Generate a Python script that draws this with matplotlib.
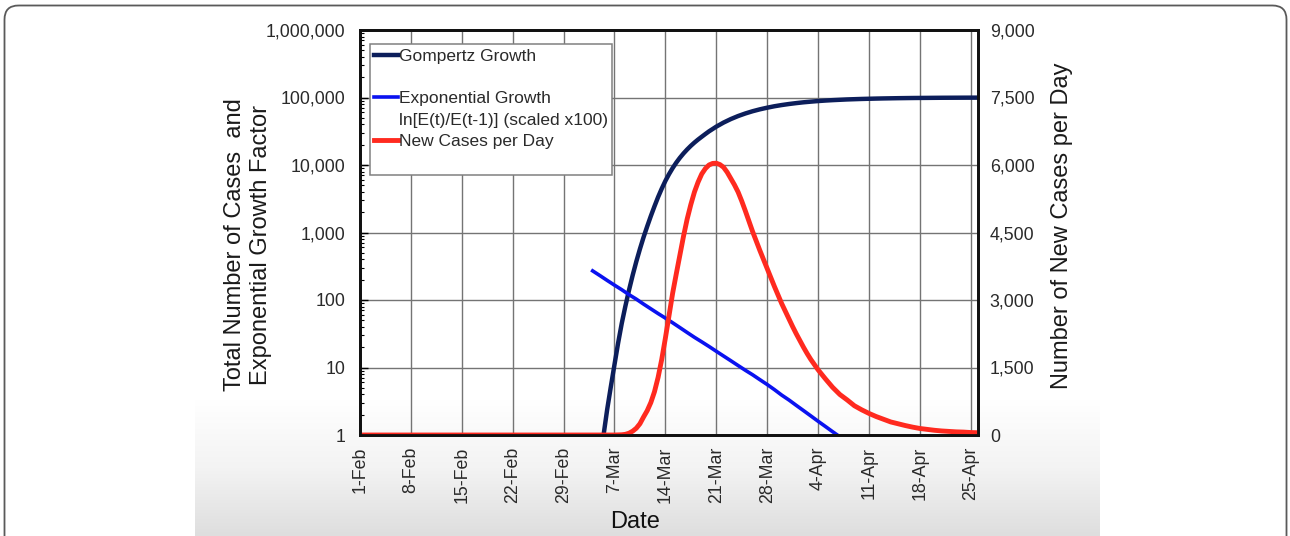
import numpy as np
import matplotlib
matplotlib.use('Agg')
import matplotlib.pyplot as plt
from matplotlib.lines import Line2D
from matplotlib.patches import FancyBboxPatch
from matplotlib.colors import LinearSegmentedColormap
import matplotlib.transforms as mtransforms

plt.rcParams['font.family'] = ['Liberation Sans', 'DejaVu Sans']

# day 0 = 1-Feb
week_ticks = [0, 7, 14, 21, 28, 35, 42, 49, 56, 63, 70, 77, 84]
week_labels = ['1-Feb', '8-Feb', '15-Feb', '22-Feb', '29-Feb', '7-Mar', '14-Mar',
               '21-Mar', '28-Mar', '4-Apr', '11-Apr', '18-Apr', '25-Apr']

# total cases, Gompertz fit: half-day steps to day 50, then daily to day 85
gomp_days = list(np.arange(33, 50, 0.5)) + list(range(50, 86))
gompertz = [0.38, 1.0, 2.4, 5.2, 11, 23, 45, 81, 140, 232,
            370, 569, 850, 1230, 1750, 2440, 3350, 4460, 5800, 7310,
            9000, 10840, 12800, 14860, 17000, 19230, 21500, 23830, 26200, 28770,
            31500, 34120, 37000, 39630,
            42500, 47900, 53100, 58000, 62600, 66800, 70600, 74200, 77300, 80100,
            82600, 84900, 86800, 88600, 90100, 91400, 92500, 93600, 94400, 95200,
            95800, 96400, 96900, 97300, 97700, 98000, 98300, 98500, 98700, 98900,
            99100, 99200, 99300, 99400, 99500, 99550]

# ln[E(t)/E(t-1)] x100 (days 32..66)
exp_days = list(range(32, 67))
exp_factor = [270, 230, 195, 166, 142, 120, 103, 87, 74, 63,
              54, 46, 39, 33, 28, 24, 20.5, 17.4, 14.8, 12.6,
              10.7, 9.1, 7.8, 6.6, 5.6, 4.7, 3.9, 3.3, 2.75, 2.3,
              1.92, 1.6, 1.34, 1.12, 0.94]

# new cases per day: daily, half-day steps over the peak (36..62)
new_days = list(range(0, 36)) + list(np.arange(36, 62, 0.5)) + list(range(62, 86))
new_cases = [0] * 36 + [
    5, 15, 40, 85, 150, 250, 400, 540, 720, 960,
    1280, 1680, 2150, 2650, 3150, 3580, 4000, 4420, 4800, 5120,
    5400, 5620, 5800, 5920, 6000, 6035, 6040, 6010, 5950, 5840,
    5700, 5560, 5400, 5200, 4980, 4750, 4520, 4310, 4100, 3900,
    3700, 3500, 3300, 3110, 2920, 2750, 2580, 2410, 2250, 2100,
    1950, 1810] + [
    1680, 1450, 1250, 1060, 900, 780, 650, 560, 480, 410,
    350, 290, 250, 210, 175, 145, 125, 105, 90, 80,
    70, 65, 55, 50]

W, H = 1290, 536
fig = plt.figure(figsize=(W / 100, H / 100), dpi=100)

# background: card outline and shaded band at the bottom
bg = fig.add_axes([0, 0, 1, 1], zorder=-10)
bg.set_xlim(0, W)
bg.set_ylim(H, 0)
bg.axis('off')
shade = LinearSegmentedColormap.from_list('shade', ['#ffffff', '#f3f3f3', '#dedede'])
grad = np.linspace(0, 1, 200).reshape(-1, 1)
bg.imshow(grad, cmap=shade, extent=(195, 1100, 536, 400), aspect='auto', interpolation='bilinear')
card = FancyBboxPatch((4.5, 5.5), 1282, 620, boxstyle='round,pad=0,rounding_size=14',
                      fill=False, ec='#5a5a5a', lw=1.3)
bg.add_patch(card)

ax = fig.add_axes([360 / W, (H - 435) / H, 618 / W, 405 / H])
ax.set_facecolor('none')
ax2 = ax.twinx()

ax.plot(gomp_days, gompertz, color='#0c1e5b', lw=3.2, solid_joinstyle='round')
ax.plot(exp_days, exp_factor, color='#0a12f0', lw=2.6, solid_joinstyle='round')
ax2.plot(new_days, new_cases, color='#ff2a1f', lw=3.5, solid_joinstyle='round')

ax.set_yscale('log')
ax.set_ylim(1, 1e6)
ax.set_xlim(0, 85)
ax2.set_ylim(0, 9000)

ax.set_yticks([1, 10, 100, 1000, 10000, 100000, 1000000])
ax.set_yticklabels(['1', '10', '100', '1,000', '10,000', '100,000', '1,000,000'])
ax2.set_yticks([0, 1500, 3000, 4500, 6000, 7500, 9000])
ax2.set_yticklabels(['0', '1,500', '3,000', '4,500', '6,000', '7,500', '9,000'])
ax.set_xticks(week_ticks)
ax.set_xticklabels(week_labels, rotation=90)
shift = mtransforms.ScaledTranslation(5 / 100, 0, fig.dpi_scale_trans)
for lab in ax.get_xticklabels():
    lab.set_transform(lab.get_transform() + shift)

ax.grid(True, which='major', color='#747474', lw=1.0)
ax.set_axisbelow(True)

ax.tick_params(axis='y', which='major', direction='in', length=6, width=1,
               labelsize=12.8, pad=10.5, labelcolor='#2a2a2a')
ax.tick_params(axis='y', which='minor', direction='in', length=3, width=0.8)
ax.tick_params(axis='x', length=0, labelsize=12.8, pad=8.5, labelcolor='#2a2a2a')
ax2.tick_params(axis='y', length=0, labelsize=12.8, pad=8.5, labelcolor='#2a2a2a')

for a in (ax, ax2):
    for sp in a.spines.values():
        sp.set_linewidth(2.0)
        sp.set_color('#111111')

ax.set_ylabel('Total Number of Cases  and\nExponential Growth Factor',
              fontsize=17, color='#1a1a1a', va='center', linespacing=1.2)
ax.yaxis.set_label_coords(-0.181, 0.47)
ax2.set_ylabel('Number of New Cases per Day', fontsize=17, color='#1a1a1a',
               va='center', rotation=90)
ax2.yaxis.set_label_coords(1.136, 0.516)
ax.set_xlabel('Date', fontsize=17, color='#111111', va='center')
ax.xaxis.set_label_coords(0.445, -0.215)

blank = Line2D([], [], color='none')
handles = [Line2D([], [], color='#0c1e5b', lw=3.2), blank,
           Line2D([], [], color='#0a12f0', lw=2.6), blank,
           Line2D([], [], color='#ff2a1f', lw=3.5), blank]
labels = ['Gompertz Growth', ' ', 'Exponential Growth',
          'ln[E(t)/E(t-1)] (scaled x100)', 'New Cases per Day', ' ']
leg = ax2.legend(handles, labels, loc='upper left', bbox_to_anchor=(0.016, 0.965),
                 borderaxespad=0, borderpad=0.25, handlelength=1.35, handletextpad=0.05,
                 labelspacing=0.36, fontsize=12.5, fancybox=False, framealpha=1,
                 edgecolor='#808080')
leg.get_frame().set_linewidth(1.1)
for t in leg.get_texts():
    t.set_color('#2a2a2a')

fig.savefig('out.png', dpi=100)
